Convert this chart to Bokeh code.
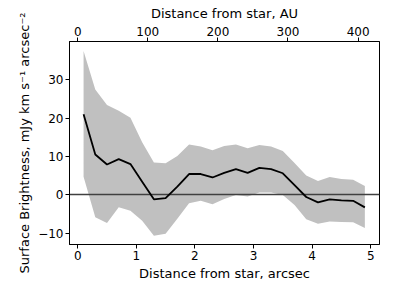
from bokeh.plotting import figure
from bokeh.models import (Range1d, LinearAxis, FixedTicker,
                          CustomJSTickFormatter, ColumnDataSource)
from bokeh.embed import file_html
from bokeh.resources import INLINE

# data
dist_arcsec = [0.1, 0.3, 0.5, 0.7, 0.9, 1.1, 1.3, 1.5, 1.7, 1.9, 2.1, 2.3, 2.5,
               2.7, 2.9, 3.1, 3.3, 3.5, 3.7, 3.9, 4.1, 4.3, 4.5, 4.7, 4.9]
mean_sb = [21.0, 10.5, 7.9, 9.3, 8.0, 3.4, -1.2, -0.9, 2.1, 5.4, 5.4, 4.5, 5.7,
           6.7, 5.7, 7.0, 6.7, 5.6, 2.5, -0.6, -2.0, -1.2, -1.5, -1.6, -3.3]
upper_sb = [37.5, 27.5, 23.4, 21.9, 20.1, 13.7, 8.4, 8.2, 10.1, 13.1, 12.6, 11.6, 12.7,
            13.1, 12.1, 13.0, 12.6, 11.4, 8.3, 5.0, 3.6, 4.6, 4.1, 3.9, 2.3]
lower_sb = [4.7, -5.9, -7.4, -3.3, -4.2, -6.8, -10.7, -10.2, -6.3, -2.2, -1.6, -2.5, -1.1,
            -0.1, -0.5, 0.6, 0.6, -0.1, -2.7, -6.4, -7.6, -7.0, -7.1, -7.2, -8.7]
zero_level = [0]
au_per_arcsec = 83.6
x_ticks = [0, 1, 2, 3, 4, 5]
au_ticks = [0, 100, 200, 300, 400]
y_ticks = [-10, 0, 10, 20, 30]
x_lim = (-0.14, 5.15)
y_lim = (-13.0, 40.0)

src = ColumnDataSource(dict(x=dist_arcsec, m=mean_sb, u=upper_sb, l=lower_sb))

FONT = "DejaVu Sans"
p = figure(width=383, height=283, output_backend="svg", toolbar_location=None,
           x_range=Range1d(*x_lim), y_range=Range1d(*y_lim),
           min_border_left=69, min_border_right=4, min_border_top=41,
           min_border_bottom=38)
p.extra_x_ranges = {"au": Range1d(x_lim[0] * au_per_arcsec, x_lim[1] * au_per_arcsec)}
p.xgrid.visible = False
p.ygrid.visible = False
p.outline_line_color = "black"

p.varea(x="x", y1="l", y2="u", source=src, fill_color="#c0c0c0")
p.hspan(y=zero_level, line_color="#404040", line_width=1.6)
p.line(x="x", y="m", source=src, line_color="black", line_width=1.8)

top = LinearAxis(x_range_name="au")
p.add_layout(top, "above")
bottom = p.below[0]
left = p.left[0]

for ax, ticks in ((bottom, x_ticks), (top, au_ticks), (left, y_ticks)):
    ax.ticker = FixedTicker(ticks=ticks)
    ax.minor_tick_line_color = None
    ax.major_tick_out = 4
    ax.major_tick_in = 0
    ax.major_label_text_font = FONT
    ax.major_label_text_font_size = "12px"
    ax.major_label_text_color = "black"
    ax.axis_label_text_font = FONT
    ax.axis_label_text_font_size = "13px"
    ax.axis_label_text_font_style = "normal"
    ax.axis_label_text_color = "black"
    ax.major_label_standoff = 2
    ax.axis_label_standoff = 3

left.formatter = CustomJSTickFormatter(
    code="return tick < 0 ? '\u2212' + Math.abs(tick) : String(tick);")

bottom.axis_label = "Distance from star, arcsec"
top.axis_label = "Distance from star, AU"
left.axis_label = "Surface Brightness, mJy km s\u207b\u00b9 arcsec\u207b\u00b2"

open("out.html", "w").write(file_html(p, INLINE))
